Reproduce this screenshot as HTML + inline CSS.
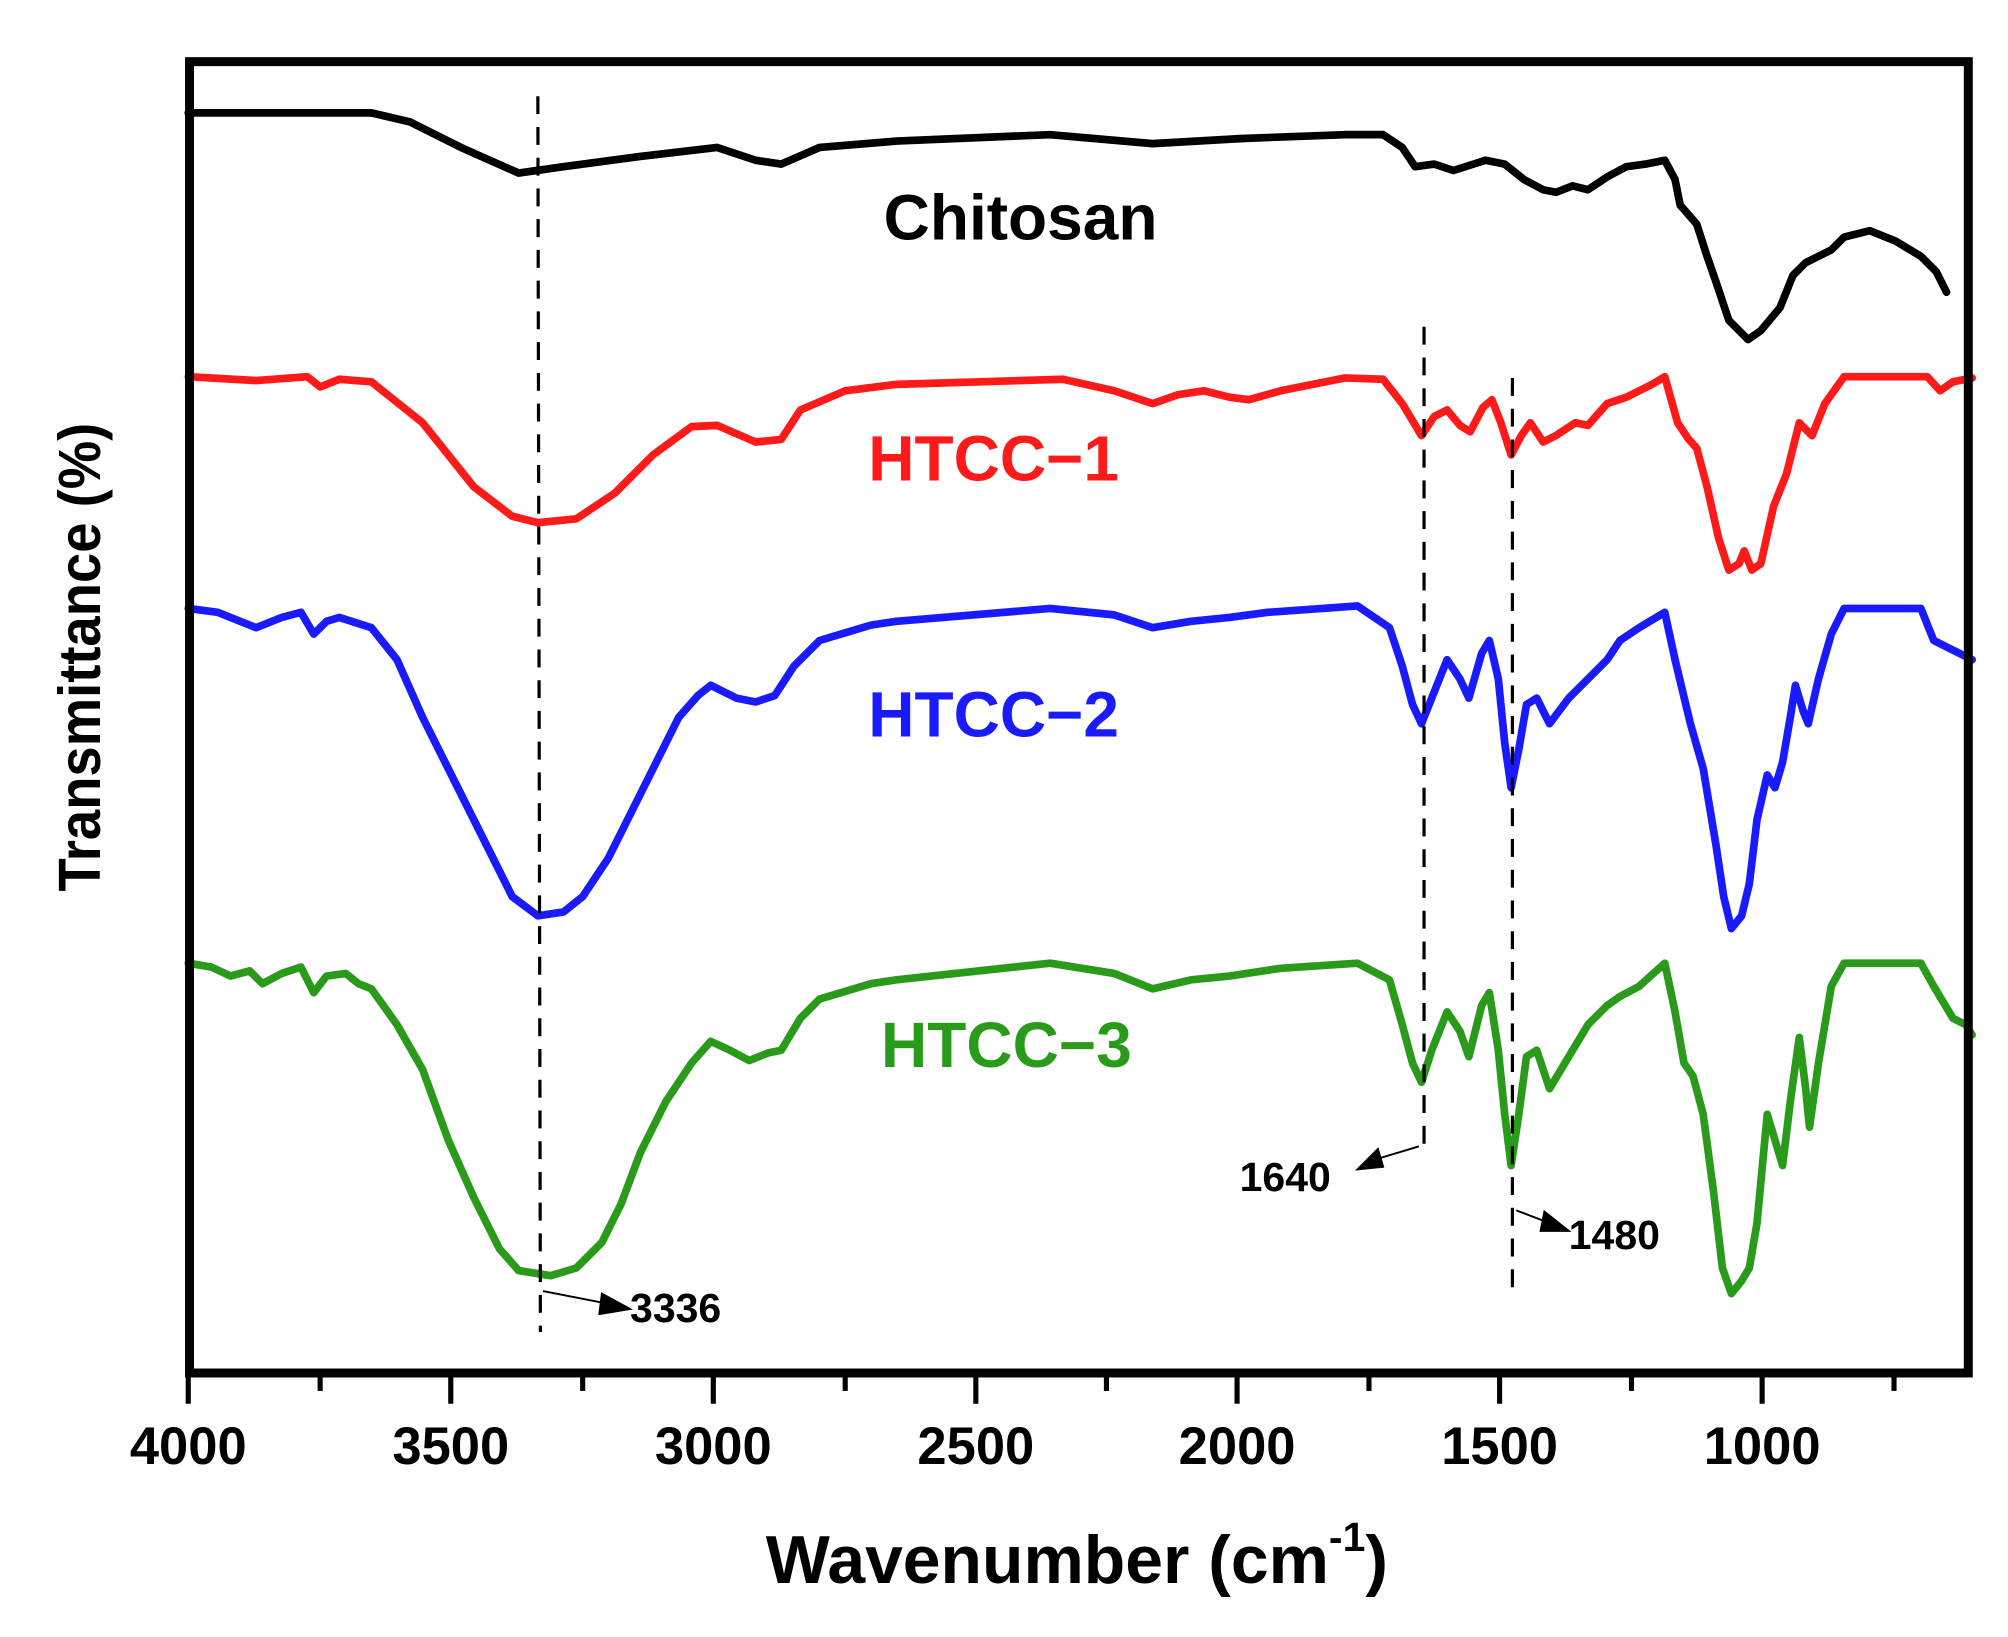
<!DOCTYPE html>
<html><head><meta charset="utf-8"><style>html,body{margin:0;padding:0;background:#fff}svg{display:block}</style></head>
<body>
<svg width="2008" height="1637" viewBox="0 0 1568 1278" xmlns="http://www.w3.org/2000/svg" font-family="Liberation Sans, Arial, sans-serif" font-weight="bold">
<rect width="1568" height="1278" fill="#fff"/>
<g fill="none" stroke-linejoin="round" stroke-linecap="round" stroke-width="6">
<polyline stroke="#000" points="147,88 290,88 320,95 360,115 405,135 440,130 500,122 560,115 590,125 610,128 640,115 700,110 820,105 900,112 970,108 1050,105 1080,105 1095,115 1105,130 1120,128 1135,133 1160,125 1175,128 1190,140 1205,148 1215,150 1228,145 1240,148 1255,138 1270,130 1285,128 1300,125 1308,140 1312,160 1325,175 1333,200 1340,220 1350,250 1365,265 1375,258 1390,240 1400,215 1410,205 1420,200 1430,195 1440,185 1460,180 1480,188 1500,200 1512,212 1520,228"/>
<polyline stroke="#ff1a1a" points="147,294 200,297 240,294 250,302 265,296 290,298 330,330 370,380 400,403 420,408 450,405 480,385 510,355 540,333 560,332 590,345 610,343 625,320 660,305 700,300 830,296 870,305 900,315 920,308 940,305 960,310 975,312 1000,305 1050,295 1080,296 1095,315 1110,340 1120,325 1130,320 1140,332 1148,337 1158,318 1165,312 1172,330 1180,355 1188,340 1195,330 1205,345 1215,340 1230,330 1240,332 1255,315 1270,310 1290,300 1300,294 1310,330 1318,342 1325,350 1333,380 1342,420 1350,445 1358,440 1362,430 1368,445 1375,440 1385,395 1395,370 1405,330 1415,340 1425,315 1440,294 1505,294 1515,305 1525,298 1540,295"/>
<polyline stroke="#1a1aff" points="147,475 170,478 200,490 220,482 235,478 245,495 255,485 265,482 290,490 310,515 330,560 355,610 380,660 400,700 420,715 440,712 455,700 475,670 490,640 510,600 530,560 545,543 555,535 575,545 590,548 605,543 620,520 640,500 680,488 700,485 820,475 870,480 900,490 930,485 960,482 990,478 1060,473 1085,490 1095,520 1103,550 1110,565 1118,545 1130,515 1140,530 1147,545 1157,510 1163,500 1170,530 1175,580 1180,615 1186,585 1192,550 1200,545 1210,565 1225,545 1240,530 1255,515 1265,500 1280,490 1300,478 1308,515 1320,565 1330,600 1340,660 1346,700 1352,725 1360,715 1366,690 1372,640 1380,605 1386,615 1392,595 1398,560 1402,535 1408,555 1412,565 1420,530 1430,495 1440,475 1500,475 1510,500 1520,505 1540,515"/>
<polyline stroke="#2a9a1a" points="147,752 165,755 180,762 195,758 205,768 220,760 235,755 245,775 255,762 270,760 280,768 290,772 310,800 330,835 350,890 370,935 390,975 405,992 430,996 450,990 470,970 485,940 500,900 520,860 540,830 555,813 570,820 585,828 600,822 610,820 625,795 640,780 680,768 700,765 820,752 870,760 900,772 930,765 960,762 1000,756 1060,752 1085,765 1095,800 1103,830 1110,845 1118,820 1130,790 1140,805 1147,825 1157,785 1163,775 1170,820 1175,870 1180,910 1186,870 1192,825 1200,820 1210,850 1225,825 1240,800 1255,785 1265,778 1280,770 1300,752 1308,790 1315,830 1322,840 1330,870 1338,930 1345,990 1352,1010 1360,1000 1366,990 1372,955 1380,870 1386,890 1392,910 1398,860 1405,810 1410,850 1413,880 1420,830 1430,770 1440,752 1500,752 1510,770 1525,795 1535,800 1540,808"/>
</g>
<g stroke="#000" stroke-width="2.5" stroke-dasharray="14,10">
<line x1="420" y1="75" x2="422" y2="1040"/>
<line x1="1112" y1="255" x2="1112" y2="895"/>
<line x1="1181" y1="295" x2="1181" y2="1005"/>
</g>
<g stroke="#000" stroke-width="1.5" fill="#000">
<line x1="424" y1="1008" x2="475" y2="1018"/><polygon points="492,1022 470,1010 468,1026"/>
<line x1="1108" y1="895" x2="1075" y2="905"/><polygon points="1060,913 1076,897 1080,911"/>
<line x1="1184" y1="945" x2="1205" y2="953"/><polygon points="1225,961 1206,946 1203,961"/>
</g>
<g font-size="32" fill="#000">
<text x="492" y="1032">3336</text>
<text x="968" y="930">1640</text>
<text x="1225" y="975">1480</text>
</g>
<g font-size="50">
<text x="690" y="187" fill="#000">Chitosan</text>
<text x="678" y="375" fill="#ff1a1a">HTCC−1</text>
<text x="678" y="575" fill="#1a1aff">HTCC−2</text>
<text x="688" y="833" fill="#2a9a1a">HTCC−3</text>
</g>
<rect x="148" y="48" width="1389" height="1024" fill="none" stroke="#000" stroke-width="7"/>
<g stroke="#000" stroke-width="4">
<line x1="147" y1="1075" x2="147" y2="1096"/><line x1="352" y1="1075" x2="352" y2="1096"/><line x1="557" y1="1075" x2="557" y2="1096"/><line x1="762" y1="1075" x2="762" y2="1096"/><line x1="966" y1="1075" x2="966" y2="1096"/><line x1="1171" y1="1075" x2="1171" y2="1096"/><line x1="1376" y1="1075" x2="1376" y2="1096"/>
<line x1="250" y1="1075" x2="250" y2="1086"/><line x1="455" y1="1075" x2="455" y2="1086"/><line x1="660" y1="1075" x2="660" y2="1086"/><line x1="864" y1="1075" x2="864" y2="1086"/><line x1="1069" y1="1075" x2="1069" y2="1086"/><line x1="1274" y1="1075" x2="1274" y2="1086"/><line x1="1479" y1="1075" x2="1479" y2="1086"/>
</g>
<g font-size="41" text-anchor="middle" fill="#000">
<text x="147" y="1143">4000</text><text x="352" y="1143">3500</text><text x="557" y="1143">3000</text><text x="762" y="1143">2500</text><text x="966" y="1143">2000</text><text x="1171" y="1143">1500</text><text x="1376" y="1143">1000</text>
</g>
<text x="598" y="1236" font-size="53" fill="#000">Wavenumber (cm<tspan font-size="32" dy="-25">-1</tspan><tspan dy="25">)</tspan></text>
<text transform="translate(78,513) rotate(-90)" text-anchor="middle" font-size="46" textLength="366" lengthAdjust="spacingAndGlyphs" fill="#000">Transmittance (%)</text>
</svg>
</body></html>
